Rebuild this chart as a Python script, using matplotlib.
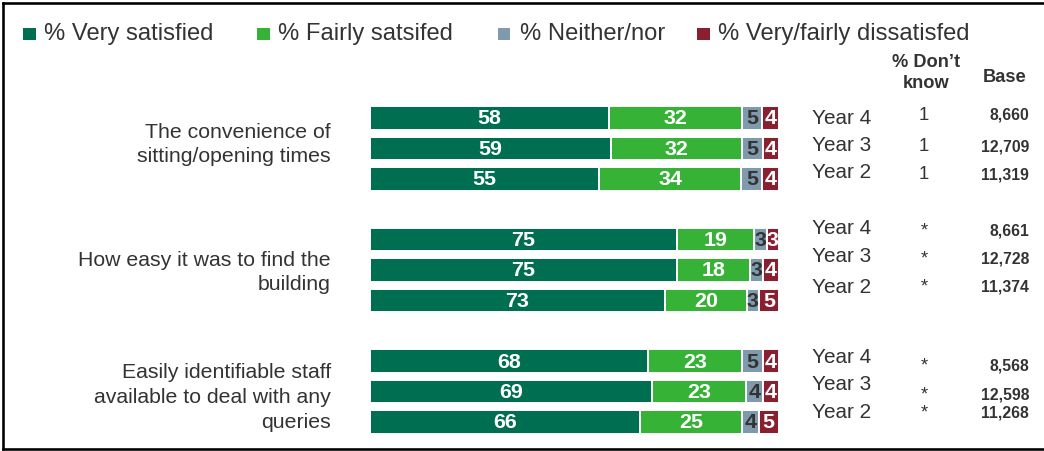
import matplotlib
matplotlib.use("Agg")
import matplotlib.pyplot as plt
import matplotlib.transforms as mtransforms
from matplotlib.patches import Rectangle
from matplotlib.lines import Line2D
import numpy as np

plt.rcParams["font.family"] = ["Liberation Sans", "DejaVu Sans"]

# ---- data ----
questions = [
    "The convenience of\nsitting/opening times",
    "How easy it was to find the\nbuilding",
    "Easily identifiable staff\navailable to deal with any\nqueries",
]
years = ["Year 4", "Year 3", "Year 2"]
series_names = ["% Very satisfied", "% Fairly satsifed", "% Neither/nor",
                "% Very/fairly dissatisfed"]

very_satisfied = [[58, 59, 55], [75, 75, 73], [68, 69, 66]]
fairly_satisfied = [[32, 32, 34], [19, 18, 20], [23, 23, 25]]
neither_nor = [[5, 5, 5], [3, 3, 3], [5, 4, 4]]
dissatisfied = [[4, 4, 4], [3, 4, 5], [4, 4, 5]]
dont_know = [["1", "1", "1"], ["*", "*", "*"], ["*", "*", "*"]]
base = [["8,660", "12,709", "11,319"], ["8,661", "12,728", "11,374"],
        ["8,568", "12,598", "11,268"]]

# ---- style ----
colors = ["#006F51", "#36B236", "#7F9AAC", "#8A1F30"]
label_colors = ["white", "white", "#333333", "white"]
text_col = "#333333"

# vertical nudges (pixels) of the right-hand text columns relative to bars
year_nudge = [[0, -2.5, -6], [-11, -13.5, -13], [-4, -7, -10]]
col_nudge = [[-3, -1.5, -4], [-9, -11.5, -13], [5, 3, -9]]
question_nudge = [-4, 2.5, 6]

W, H = 1044, 451
DPI = 100
fig = plt.figure(figsize=(W / DPI, H / DPI), dpi=DPI)

def px(v):
    return v * 72.0 / DPI  # pixels -> points

# axes placement in pixels
ax_left, ax_right = 369.5, 779.0
pitch = 30.4
ax_top = 118 - pitch / 2
ax_h = 11 * pitch
ax = fig.add_axes([ax_left / W, (H - ax_top - ax_h) / H,
                   (ax_right - ax_left) / W, ax_h / H])
ax.set_xlim(0, 100)
ax.set_ylim(10.5, -0.5)
ax.axis("off")

series = [very_satisfied, fairly_satisfied, neither_nor, dissatisfied]

blend_fx = mtransforms.blended_transform_factory(fig.transFigure, ax.transData)

for g in range(len(questions)):
    for r in range(len(years)):
        slot = g * 4 + r
        vals = np.array([s[g][r] for s in series], dtype=float)
        total = vals.sum()
        widths = vals / total * 100.0
        left = 0.0
        for k in range(4):
            ax.barh(slot, widths[k], left=left, height=0.77, color=colors[k],
                    edgecolor="white", linewidth=1.4)
            ax.text(left + widths[k] / 2, slot + 0.03, f"{int(vals[k])}",
                    ha="center", va="center", color=label_colors[k],
                    fontsize=px(21.5), fontweight="bold")
            left += widths[k]
        ty = slot + year_nudge[g][r] / pitch
        cy = slot + col_nudge[g][r] / pitch
        ax.text(812 / W, ty, years[r], transform=blend_fx, ha="left",
                va="center", fontsize=px(20.8), color=text_col)
        ax.text(924 / W, cy, dont_know[g][r], transform=blend_fx,
                ha="center", va="center", fontsize=px(18.5), color=text_col)
        ax.text(1029 / W, cy, base[g][r], transform=blend_fx, ha="right",
                va="center", fontsize=px(15.8), fontweight="bold",
                color=text_col)
    ax.text(331 / W, g * 4 + 1 + question_nudge[g] / pitch, questions[g],
            transform=blend_fx, ha="right", va="center", fontsize=px(21.3),
            color=text_col, linespacing=1.38)

# column headers
fig.text(926 / W, 1 - 73 / H, "% Don\u2019t\nknow", ha="center", va="center",
         fontsize=px(18.3), fontweight="bold", color=text_col, linespacing=1.25)
fig.text(1005 / W, 1 - 77 / H, "Base", ha="center", va="center",
         fontsize=px(18.3), fontweight="bold", color=text_col)

# legend
leg_sq_x = [23, 257, 498, 697]
leg_y = 34
sq = 12.5
for k, name in enumerate(series_names):
    fig.add_artist(Rectangle((leg_sq_x[k] / W, (H - leg_y - sq / 2) / H),
                             sq / W, sq / H, transform=fig.transFigure,
                             facecolor=colors[k], edgecolor="none"))
    fig.text((leg_sq_x[k] + sq + 9) / W, 1 - leg_y / H, name, ha="left",
             va="center", fontsize=px(23.8), color=text_col)

# frame on left, top and bottom
lw = px(2.6)
fig.add_artist(Line2D([2.5 / W, 2.5 / W], [2.5 / H, 1 - 2.5 / H],
                      transform=fig.transFigure, color="black", linewidth=lw))
fig.add_artist(Line2D([2.5 / W, 1.0], [1 - 2.5 / H, 1 - 2.5 / H],
                      transform=fig.transFigure, color="black", linewidth=lw))
fig.add_artist(Line2D([2.5 / W, 1.0], [2.5 / H, 2.5 / H],
                      transform=fig.transFigure, color="black", linewidth=lw))

fig.savefig("out.png", dpi=DPI)
